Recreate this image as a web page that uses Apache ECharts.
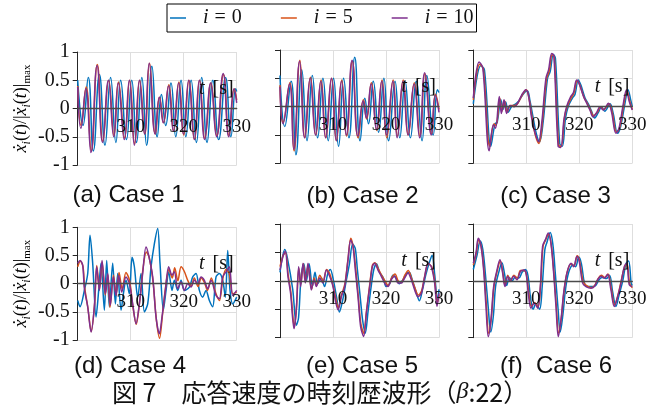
<!DOCTYPE html>
<html>
<head>
<meta charset="UTF-8">
<title>応答速度の時刻歴波形</title>
<script src="https://cdn.jsdelivr.net/npm/echarts@6/dist/echarts.min.js"></script>
<style>
  html, body { margin: 0; padding: 0; background: #fff; }
  #main { width: 662px; height: 412px; }
</style>
</head>
<body>
<div id="main"></div>
<script>
// [t (s), normalised velocity], one array per case and floor
var case1_i0 = [[300,0.5],[301.0,-0.3],[302.0,0.55],[302.95,-0.75],[304.1,0.6],[305.15,-0.65],[306.2,0.55],[307.2,-0.6],[308.1,0.5],[309.2,-0.55],[310.2,0.5],[311.1,-0.6],[312.1,0.55],[313.0,-0.65],[314.0,0.75],[315.0,-0.5],[315.8,0.25],[316.6,-0.3],[317.6,0.45],[318.5,-0.5],[319.5,0.5],[320.4,-0.5],[321.4,0.5],[322.4,-0.6],[323.4,0.55],[324.4,-0.6],[325.5,0.5],[326.6,-0.55],[327.9,0.55],[328.9,-0.5],[329.8,0.35],[330,0.3]];
var case1_i5 = [[300.0,0.4],[300.65,-0.3],[301.6,0.38],[302.55,-0.75],[303.7,0.78],[304.75,-0.58],[305.85,0.5],[306.85,-0.48],[307.7,0.47],[308.85,-0.52],[309.8,0.5],[310.75,-0.62],[311.7,0.5],[312.65,-0.45],[313.55,0.8],[314.65,-0.45],[315.45,0.2],[316.2,-0.25],[317.2,0.42],[318.1,-0.4],[319.1,0.47],[320.0,-0.47],[321.0,0.5],[322.05,-0.55],[323.0,0.5],[324.0,-0.53],[325.15,0.45],[326.25,-0.48],[327.5,0.6],[328.55,-0.48],[329.55,0.35],[330,0.15]];
var case1_i10 = [[300.0,0.38],[300.6,-0.35],[301.55,0.35],[302.5,-0.78],[303.65,0.76],[304.7,-0.6],[305.8,0.5],[306.8,-0.5],[307.65,0.45],[308.8,-0.55],[309.75,0.5],[310.7,-0.65],[311.65,0.5],[312.6,-0.45],[313.5,0.8],[314.6,-0.45],[315.4,0.2],[316.15,-0.25],[317.15,0.4],[318.05,-0.4],[319.05,0.45],[319.95,-0.45],[320.95,0.5],[322.0,-0.55],[322.95,0.5],[323.95,-0.55],[325.1,0.45],[326.2,-0.5],[327.45,0.62],[328.5,-0.5],[329.5,0.35],[330,0.1]];

var case2_i0 = [[300,0.55],[300.9,-0.35],[302.1,0.45],[303.0,-0.85],[304.1,0.65],[305.1,-0.6],[306.1,0.55],[307.1,-0.55],[308.1,0.5],[309.1,-0.6],[310.1,0.5],[311.05,-0.7],[312.0,0.5],[313.0,-0.55],[314.1,0.87],[315.1,-0.6],[316.0,0.15],[316.7,-0.3],[317.6,0.45],[318.6,-0.45],[319.6,0.5],[320.5,-0.6],[321.7,0.45],[322.6,-0.55],[323.6,0.45],[324.6,-0.55],[325.7,0.45],[326.8,-0.6],[327.7,0.55],[328.9,-0.5],[329.7,0.3],[330,0.25]];
var case2_i5 = [[300,0.38],[300.6,-0.28],[301.85,0.42],[302.65,-0.78],[303.75,0.82],[304.7,-0.55],[305.75,0.52],[306.75,-0.5],[307.75,0.47],[308.65,-0.55],[309.75,0.5],[310.65,-0.6],[311.65,0.47],[312.55,-0.52],[313.65,0.8],[314.75,-0.55],[315.75,0.12],[316.35,-0.22],[317.25,0.42],[318.25,-0.42],[319.25,0.47],[320.15,-0.55],[321.35,0.47],[322.15,-0.52],[323.25,0.47],[324.2,-0.5],[325.35,0.42],[326.4,-0.52],[327.35,0.58],[328.6,-0.48],[329.35,0.22],[330,-0.05]];
var case2_i10 = [[300,0.35],[300.57,-0.3],[301.8,0.4],[302.6,-0.75],[303.7,0.8],[304.65,-0.55],[305.7,0.5],[306.7,-0.5],[307.7,0.45],[308.6,-0.55],[309.7,0.5],[310.6,-0.6],[311.6,0.45],[312.5,-0.5],[313.6,0.82],[314.7,-0.52],[315.7,0.1],[316.3,-0.2],[317.2,0.4],[318.2,-0.4],[319.2,0.45],[320.1,-0.5],[321.3,0.45],[322.1,-0.55],[323.2,0.45],[324.15,-0.5],[325.3,0.4],[326.35,-0.55],[327.3,0.6],[328.55,-0.5],[329.3,0.2],[330,-0.1]];

var case3_i0 = [[300,0.05],[301.4,0.72],[302.1,0.65],[303.3,-0.7],[304.1,-0.3],[304.5,-0.28],[305.2,0.12],[305.6,-0.05],[306.1,0.08],[306.6,-0.1],[307.2,0.0],[308.0,0.05],[308.6,0.1],[309.4,0.22],[310.2,0.28],[310.7,0.1],[311.3,-0.2],[311.9,-0.48],[312.5,-0.62],[313.2,-0.25],[314.0,0.5],[314.5,0.62],[315.1,0.92],[315.5,0.85],[316.3,-0.65],[316.8,-0.7],[317.4,-0.2],[317.9,0.0],[318.7,0.15],[319.2,0.22],[319.8,0.47],[320.3,0.38],[321.1,0.15],[321.7,0.05],[322.3,-0.08],[322.9,-0.2],[323.6,-0.1],[324.2,0.0],[324.8,-0.08],[325.8,0.05],[326.4,-0.12],[327.2,-0.47],[327.8,-0.35],[328.6,0.05],[329.2,0.3],[329.7,0.12],[330,0.0]];
var case3_i5 = [[300,0.12],[301.2,0.75],[301.9,0.66],[303.1,-0.7],[303.9,-0.3],[304.3,-0.33],[305.0,0.15],[305.4,-0.08],[305.9,0.1],[306.4,-0.1],[307.0,0.02],[307.8,0.02],[308.4,0.06],[309.2,0.2],[310.0,0.3],[310.5,0.15],[311.1,-0.2],[311.7,-0.5],[312.4,-0.65],[313.0,-0.3],[313.8,0.48],[314.3,0.62],[314.9,0.92],[315.3,0.86],[316.1,-0.68],[316.6,-0.7],[317.2,-0.2],[317.7,0.0],[318.5,0.16],[319.0,0.24],[319.6,0.46],[320.1,0.38],[320.9,0.16],[321.5,0.06],[322.1,-0.06],[322.7,-0.16],[323.4,-0.1],[324.0,0.0],[324.6,-0.05],[325.6,0.05],[326.2,-0.1],[327.0,-0.45],[327.6,-0.38],[328.4,0.05],[329.0,0.28],[329.5,0.1],[330,-0.05]];
var case3_i10 = [[300,0.15],[301.1,0.79],[301.8,0.68],[303.0,-0.78],[303.8,-0.32],[304.2,-0.38],[304.9,0.18],[305.3,-0.12],[305.8,0.12],[306.3,-0.12],[306.9,0.02],[307.7,0.0],[308.3,0.05],[309.1,0.2],[309.9,0.3],[310.4,0.2],[311.0,-0.2],[311.6,-0.45],[312.3,-0.62],[312.9,-0.3],[313.7,0.5],[314.2,0.65],[314.8,0.94],[315.2,0.9],[316.0,-0.7],[316.5,-0.72],[317.1,-0.23],[317.6,0.0],[318.4,0.18],[318.9,0.25],[319.5,0.47],[320.0,0.4],[320.8,0.18],[321.4,0.06],[322.0,-0.06],[322.6,-0.18],[323.3,-0.1],[323.9,0.0],[324.5,-0.06],[325.5,0.06],[326.1,-0.1],[326.9,-0.47],[327.5,-0.38],[328.3,0.05],[328.9,0.3],[329.4,0.1],[330,-0.06]];

var case4_i0 = [[300,-0.3],[300.44,-0.41],[301.26,-0.12],[301.89,0.18],[302.33,0.86],[302.83,0.36],[303.46,-0.59],[303.96,-0.12],[304.4,0.36],[305.03,-0.47],[305.47,0.41],[305.97,-0.41],[306.6,0.36],[307.11,-0.36],[307.55,0.18],[308.18,-0.47],[308.62,-0.18],[309.12,0.06],[309.75,-0.18],[310.25,0.47],[310.69,0.3],[311.32,-0.24],[311.95,0.18],[312.58,-0.5],[313.21,-0.36],[313.84,0.3],[314.47,0.71],[315.09,0.98],[315.53,0.36],[316.16,-0.47],[316.67,-0.12],[317.17,0.21],[317.8,-0.12],[318.24,0.06],[318.87,-0.12],[319.5,0.06],[320.13,-0.12],[321.07,-0.06],[321.7,0.12],[322.33,0.18],[322.96,-0.12],[323.58,-0.24],[324.21,-0.12],[324.84,-0.3],[325.47,-0.41],[326.1,0.12],[326.73,0.18],[327.36,0.06],[327.86,-0.24],[328.3,0.59],[328.74,-0.12],[329.25,-0.36],[330,-0.24]];
var case4_i5 = [[300,0.3],[300.5,0.4],[301.0,0.3],[301.3,-0.05],[301.95,-0.45],[302.55,-0.85],[303.2,-0.35],[303.6,0.32],[304.1,-0.1],[304.6,0.38],[305.2,-0.2],[305.7,0.15],[306.1,-0.42],[306.75,0.15],[307.25,-0.2],[307.8,0.2],[308.4,-0.1],[309.1,0.2],[309.8,0.05],[310.4,-0.4],[311.05,-0.72],[311.7,-0.3],[312.3,0.25],[312.95,0.56],[313.45,0.48],[314.2,0.05],[314.85,-0.65],[315.45,-0.97],[316.0,-0.55],[316.6,-0.05],[317.2,0.25],[317.85,0.1],[318.3,0.28],[318.9,0.05],[319.5,0.3],[320.1,0.22],[320.8,0.05],[321.4,-0.05],[322.0,0.1],[322.7,-0.05],[323.3,0.1],[323.9,0.02],[324.5,-0.12],[325.2,0.1],[326.1,-0.18],[326.75,-0.3],[327.4,0.1],[328.0,0.25],[328.6,0.18],[329.25,-0.18],[330,-0.15]];
var case4_i10 = [[300,0.36],[300.44,0.41],[300.94,0.33],[301.26,-0.09],[301.89,-0.41],[302.52,-0.86],[303.14,-0.41],[303.58,0.3],[304.09,-0.12],[304.59,0.41],[305.22,-0.18],[305.66,0.18],[306.16,-0.38],[306.73,0.12],[307.23,-0.21],[307.74,0.15],[308.3,-0.15],[309.12,0.12],[309.75,0.0],[310.38,-0.36],[311.0,-0.71],[311.64,-0.36],[312.26,0.18],[312.89,0.65],[313.4,0.5],[314.15,0.12],[314.78,-0.59],[315.41,-0.89],[315.91,-0.59],[316.54,-0.12],[317.17,0.3],[317.8,0.15],[318.24,0.21],[318.87,-0.09],[319.5,0.03],[320.13,-0.12],[320.75,0.0],[321.38,-0.06],[322.01,0.06],[322.64,0.0],[323.27,0.12],[323.9,0.06],[324.53,-0.09],[325.16,0.06],[326.1,-0.21],[326.73,-0.27],[327.36,0.12],[327.99,0.21],[328.62,0.3],[329.25,-0.21],[330,-0.12]];

var case5_i0 = [[300,0.15],[300.9,0.55],[301.4,0.4],[302.4,-0.15],[303.1,-0.78],[303.5,-0.65],[304.0,0.1],[304.5,0.3],[305.0,0.0],[305.5,0.3],[306.1,-0.1],[306.6,0.15],[307.1,-0.05],[307.8,0.05],[308.4,-0.1],[309.0,0.12],[309.5,0.2],[310.1,0.0],[310.7,-0.3],[311.2,-0.55],[311.8,-0.35],[312.4,-0.05],[313.1,0.3],[313.7,0.65],[314.2,0.57],[314.6,0.2],[315.1,-0.25],[315.6,-0.7],[316.1,-0.92],[316.6,-0.55],[317.2,-0.1],[317.7,0.2],[318.2,0.3],[318.8,0.15],[319.5,0.05],[320.0,-0.1],[320.7,-0.05],[321.3,0.1],[321.9,0.05],[322.5,-0.05],[323.2,0.02],[323.8,0.12],[324.4,0.15],[325.0,0.0],[325.7,-0.2],[326.3,-0.35],[326.9,-0.15],[327.5,0.1],[328.1,0.3],[328.7,0.45],[329.2,0.1],[329.7,-0.35],[330,-0.15]];
var case5_i5 = [[300,0.25],[300.6,0.45],[301.05,0.5],[301.55,0.1],[302.05,-0.2],[302.7,-0.82],[303.1,-0.48],[303.55,0.22],[303.95,-0.05],[304.4,0.3],[304.85,0.0],[305.3,0.28],[305.95,-0.15],[306.45,0.05],[306.9,-0.08],[307.5,0.1],[308.15,0.0],[308.8,0.2],[309.4,0.12],[310.05,-0.1],[310.5,-0.3],[311.0,-0.48],[311.6,-0.25],[312.25,-0.05],[312.85,0.4],[313.35,0.75],[313.8,0.6],[314.25,0.25],[314.75,-0.25],[315.25,-0.75],[315.8,-0.92],[316.3,-0.55],[316.95,-0.05],[317.45,0.28],[317.9,0.32],[318.5,0.22],[319.15,0.1],[319.8,0.0],[320.4,-0.08],[321.05,0.05],[321.7,0.12],[322.3,0.0],[322.9,-0.02],[323.55,0.1],[324.2,0.18],[324.8,0.05],[325.45,-0.12],[326.1,-0.25],[326.7,-0.18],[327.35,0.1],[327.95,0.3],[328.6,0.25],[329.2,0.0],[329.65,-0.4],[330,-0.25]];
var case5_i10 = [[300,0.19],[300.57,0.43],[301.0,0.52],[301.5,0.08],[302.0,-0.22],[302.64,-0.84],[303.08,-0.51],[303.52,0.25],[303.9,-0.1],[304.34,0.31],[304.78,-0.04],[305.28,0.31],[305.91,-0.16],[306.42,0.02],[306.86,-0.1],[307.48,0.05],[308.11,-0.04],[308.74,0.19],[309.37,0.08],[310.0,-0.1],[310.44,-0.34],[310.94,-0.51],[311.57,-0.28],[312.2,-0.1],[312.83,0.37],[313.33,0.72],[313.77,0.61],[314.21,0.19],[314.72,-0.28],[315.22,-0.81],[315.79,-0.98],[316.29,-0.57],[316.92,-0.1],[317.42,0.25],[317.86,0.31],[318.49,0.19],[319.12,0.08],[319.75,-0.04],[320.38,-0.1],[321.0,0.02],[321.64,0.08],[322.26,-0.04],[322.89,-0.04],[323.52,0.05],[324.15,0.14],[324.78,0.02],[325.41,-0.16],[326.04,-0.28],[326.67,-0.22],[327.3,0.08],[327.92,0.31],[328.55,0.25],[329.18,-0.04],[329.62,-0.45],[330,-0.22]];

var case6_i0 = [[300,0.2],[300.7,0.45],[301.3,0.7],[301.8,0.55],[302.3,0.1],[302.8,-0.45],[303.3,-0.9],[303.8,-0.6],[304.2,-0.1],[304.8,0.15],[305.4,0.32],[305.9,0.12],[306.3,-0.08],[306.8,0.06],[307.3,0.0],[307.9,0.06],[308.6,0.05],[309.2,0.15],[309.8,0.2],[310.3,0.1],[310.8,-0.3],[311.3,-0.5],[311.8,-0.4],[312.5,-0.5],[313.0,-0.1],[313.5,0.55],[313.9,0.68],[314.5,0.85],[315.0,0.65],[315.5,0.1],[316.0,-0.5],[316.4,-0.9],[316.9,-0.6],[317.4,-0.15],[318.0,0.15],[318.8,0.28],[319.3,0.25],[319.9,0.42],[320.4,0.3],[321.0,-0.05],[321.6,-0.1],[322.5,-0.1],[323.1,-0.08],[323.8,0.03],[324.4,0.06],[325.1,0.04],[325.7,0.1],[326.3,-0.2],[326.9,-0.45],[327.5,-0.25],[328.2,0.0],[328.8,0.3],[329.3,0.35],[329.8,-0.05],[330,-0.08]];
var case6_i5 = [[300,0.28],[300.55,0.48],[301.0,0.72],[301.5,0.6],[302.0,0.2],[302.45,-0.4],[302.9,-0.92],[303.4,-0.65],[303.9,-0.1],[304.5,0.17],[305.1,0.35],[305.6,0.13],[306.0,-0.08],[306.5,0.1],[307.0,0.0],[307.65,0.1],[308.3,0.05],[308.9,0.18],[309.55,0.18],[310.0,0.12],[310.45,-0.2],[310.95,-0.45],[311.55,-0.38],[312.2,-0.45],[312.7,-0.08],[313.15,0.6],[313.65,0.72],[314.2,0.82],[314.7,0.64],[315.2,0.14],[315.65,-0.42],[316.1,-0.92],[316.6,-0.66],[317.1,-0.2],[317.7,0.15],[318.5,0.3],[319.0,0.26],[319.6,0.44],[320.05,0.35],[320.7,0.0],[321.3,-0.08],[322.25,-0.12],[322.9,-0.08],[323.5,0.03],[324.15,0.1],[324.8,0.06],[325.4,0.12],[326.0,-0.12],[326.65,-0.42],[327.3,-0.25],[327.9,0.0],[328.55,0.25],[329.0,0.3],[329.5,-0.05],[330,-0.12]];
var case6_i10 = [[300,0.31],[300.5,0.49],[300.94,0.75],[301.45,0.61],[301.95,0.19],[302.39,-0.45],[302.83,-0.98],[303.33,-0.69],[303.84,-0.1],[304.47,0.19],[305.03,0.37],[305.53,0.14],[305.97,-0.1],[306.48,0.08],[306.98,-0.01],[307.61,0.08],[308.24,0.02],[308.87,0.16],[309.5,0.19],[309.94,0.14],[310.38,-0.22],[310.88,-0.48],[311.51,-0.39],[312.14,-0.48],[312.64,-0.1],[313.08,0.61],[313.58,0.72],[314.15,0.84],[314.65,0.66],[315.16,0.14],[315.6,-0.45],[316.04,-0.98],[316.54,-0.69],[317.04,-0.22],[317.67,0.14],[318.43,0.31],[318.93,0.25],[319.56,0.43],[320.0,0.34],[320.63,-0.04],[321.26,-0.1],[322.2,-0.13],[322.83,-0.1],[323.46,0.02],[324.09,0.08],[324.72,0.05],[325.35,0.11],[325.97,-0.16],[326.6,-0.45],[327.23,-0.28],[327.86,-0.04],[328.49,0.25],[328.93,0.31],[329.43,-0.07],[330,-0.1]];

var seriesNames = ['i = 0', 'i = 5', 'i = 10'];
var seriesColors = ['#0072BD', '#D95319', '#7E2F8E'];
var xTicks = [300, 310, 320, 330];
var yTicks = [-1, -0.5, 0, 0.5, 1];
var captions = ['(a) Case 1', '(b) Case 2', '(c) Case 3', '(d) Case 4', '(e) Case 5', '(f)  Case 6'];
var figTitle = '図 7　応答速度の時刻歴波形（';
var figTitleTail = ':22）';

var cases = [
  [case1_i0, case1_i5, case1_i10],
  [case2_i0, case2_i5, case2_i10],
  [case3_i0, case3_i5, case3_i10],
  [case4_i0, case4_i5, case4_i10],
  [case5_i0, case5_i5, case5_i10],
  [case6_i0, case6_i5, case6_i10]
];

var SERIF = "'Liberation Serif', 'Times New Roman', serif";
var SANS = "'Liberation Sans', Arial, sans-serif";
var CJK = "'Noto Sans CJK JP', sans-serif";

// plot boxes in px
var boxes = [
  {left: 77.7, top: 52, width: 159, height: 113},
  {left: 280, top: 50, width: 159, height: 113.3},
  {left: 473.3, top: 50, width: 159, height: 113.3},
  {left: 77.7, top: 227.3, width: 159, height: 112.7},
  {left: 280, top: 224, width: 159, height: 113.7},
  {left: 473.3, top: 224, width: 159, height: 113.7}
];
var captionPos = [[128.5, 195], [362.5, 196], [555.5, 196], [130, 366], [362, 366], [556, 366]];
var smoothness = [0.5, 0.5, 0.35, 0.3, 0.3, 0.35];

var chart = echarts.init(document.getElementById('main'));

var grids = [], xAxes = [], yAxes = [], series = [], graphics = [];

var yNameRich = {
  v: {fontFamily: SERIF, fontStyle: 'italic', fontSize: 18, lineHeight: 22, color: '#000'},
  u: {fontFamily: SERIF, fontSize: 18, lineHeight: 22, color: '#000'},
  s: {fontFamily: SERIF, fontStyle: 'italic', fontSize: 12, lineHeight: 13, verticalAlign: 'bottom', color: '#000'},
  m: {fontFamily: SERIF, fontSize: 11, lineHeight: 13, verticalAlign: 'bottom', color: '#000'}
};
var yName = '{v|\u1E8B}{s|i}{u|(}{v|t}{u|)/|}{v|\u1E8B}{s|i}{u|(}{v|t}{u|)|}{m|max}';

boxes.forEach(function (b, k) {
  var firstCol = (k % 3 === 0);
  // plot grid (2k) and a helper grid (2k+1) whose bottom edge is the zero line
  grids.push({left: b.left, top: b.top, width: b.width, height: b.height});
  grids.push({left: b.left, top: b.top, width: b.width, height: b.height / 2});

  xAxes.push({
    type: 'value', gridIndex: 2 * k,
    min: xTicks[0], max: xTicks[xTicks.length - 1], interval: xTicks[1] - xTicks[0],
    axisLine: {show: false, onZero: false}, axisTick: {show: false}, axisLabel: {show: false},
    splitLine: {show: true, lineStyle: {color: '#dedede', width: 1}}
  });
  yAxes.push({
    type: 'value', gridIndex: 2 * k,
    min: yTicks[0], max: yTicks[yTicks.length - 1], interval: yTicks[1] - yTicks[0],
    axisLine: {show: true, onZero: false, lineStyle: {color: '#262626', width: 1}},
    axisTick: {show: true, inside: false, length: 5, lineStyle: {color: '#262626'}},
    splitLine: {show: true, lineStyle: {color: '#dedede', width: 1}},
    axisLabel: {show: firstCol, margin: 8, fontFamily: SERIF, fontSize: 20, color: '#111',
      formatter: function (v) { return String(v); }},
    name: firstCol ? yName : '',
    nameLocation: 'middle', nameRotate: 90, nameGap: 45,
    nameTextStyle: {rich: yNameRich}
  });

  // time axis along the zero line, drawn above the curves
  xAxes.push({
    type: 'value', gridIndex: 2 * k + 1, position: 'bottom', z: 10,
    min: xTicks[0], max: xTicks[xTicks.length - 1], interval: xTicks[1] - xTicks[0],
    axisLine: {show: true, onZero: false, lineStyle: {color: '#4a4a4a', width: 1.3}},
    axisTick: {show: false},
    splitLine: {show: false},
    axisLabel: {
      margin: 9, fontFamily: SERIF, fontSize: 19, color: '#111',
      formatter: function (v) { return v === xTicks[0] ? '' : String(v); }
    }
  });
  yAxes.push({type: 'value', gridIndex: 2 * k + 1, min: 0, max: 1, show: false});

  cases[k].forEach(function (d, j) {
    series.push({
      name: seriesNames[j], type: 'line', data: d,
      xAxisIndex: 2 * k, yAxisIndex: 2 * k,
      symbol: 'none', smooth: smoothness[k],
      lineStyle: {color: seriesColors[j], width: 1.5},
      itemStyle: {color: seriesColors[j]},
      z: 2 + j
    });
  });

  graphics.push({
    type: 'text', z: 100,
    x: b.left + b.width - 3, y: b.top + b.height / 2 - 20,
    style: {
      text: '{it|t}{n|[s]}',
      align: 'right', verticalAlign: 'middle',
      rich: {
        it: {fontFamily: SERIF, fontStyle: 'italic', fontSize: 20, fill: '#111'},
        n: {fontFamily: SERIF, fontSize: 20, fill: '#111', padding: [0, 0, 0, 8]}
      }
    }
  });
  graphics.push({
    type: 'text', z: 100,
    x: captionPos[k][0], y: captionPos[k][1],
    style: {text: captions[k], align: 'center', verticalAlign: 'middle',
      fontFamily: SANS, fontSize: 24, fill: '#111'}
  });
});

graphics.push({
  type: 'text', z: 100, x: 112, y: 392,
  style: {
    text: '{c|' + figTitle + '}{b|\u03B2}{c|' + figTitleTail + '}',
    align: 'left', verticalAlign: 'middle',
    rich: {
      c: {fontFamily: CJK, fontSize: 25, fill: '#111'},
      b: {fontFamily: SERIF, fontStyle: 'italic', fontSize: 24, fill: '#111'}
    }
  }
});

var option = {
  animation: false,
  backgroundColor: '#fff',
  legend: {
    data: seriesNames,
    left: 167, top: 4,
    orient: 'horizontal',
    padding: [4, 3, 4, 3],
    itemGap: 39, itemWidth: 16, itemHeight: 1.5,
    icon: 'rect',
    borderColor: '#000', borderWidth: 1, backgroundColor: '#fff',
    selectedMode: false,
    formatter: function (name) {
      return '{sp|}{it|i}{eq|=}{t|' + name.split('= ')[1] + '}';
    },
    textStyle: {
      rich: {
        sp: {width: 12},
        it: {fontFamily: SERIF, fontStyle: 'italic', fontSize: 20, color: '#111'},
        eq: {fontFamily: SERIF, fontSize: 20, color: '#111', padding: [0, 6]},
        t: {fontFamily: SERIF, fontSize: 20, color: '#111'}
      }
    }
  },
  grid: grids,
  xAxis: xAxes,
  yAxis: yAxes,
  series: series,
  graphic: graphics
};
chart.setOption(option);
</script>
</body>
</html>
